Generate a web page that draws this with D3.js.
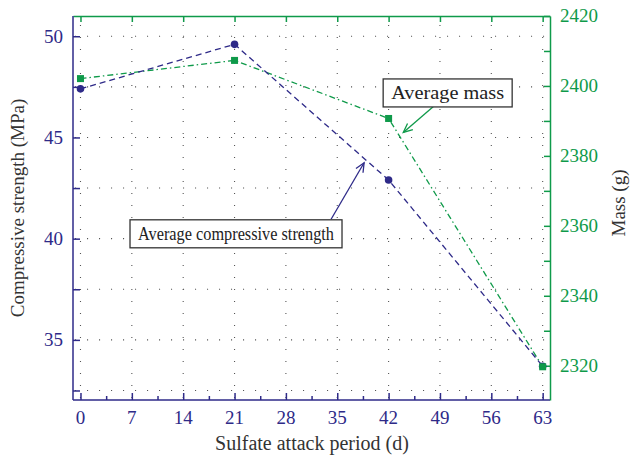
<!DOCTYPE html>
<html>
<head>
<meta charset="utf-8">
<script src="https://cdn.jsdelivr.net/npm/d3@7"></script>
<style>
  html, body { margin: 0; padding: 0; background: #fff; }
  svg { display: block; }
  text { font-family: "Liberation Serif", "DejaVu Serif", serif; }
</style>
</head>
<body>
<svg id="chart" width="630" height="460"></svg>
<script>
// Sulfate attack period (days)
const days = [0, 21, 42, 63];
// Average compressive strength (MPa)
const strength = [47.4, 49.6, 42.9, 33.7];
// Average mass (g)
const mass = [2402.1, 2407.3, 2390.7, 2319.7];

const xTicks = [0, 7, 14, 21, 28, 35, 42, 49, 56, 63];
const leftTicks = [35, 40, 45, 50];
const rightTicks = [2320, 2340, 2360, 2380, 2400, 2420];

const BLUE = "#2e2a88";
const GREEN = "#0f9a4a";
const TITLE = "#333";

const svg = d3.select("#chart");
const plot = { left: 73, right: 550, top: 16, bottom: 400 };

const x = d3.scaleLinear().domain([-1.02, 64.0]).range([plot.left, plot.right]);
const yL = d3.scaleLinear().domain([32.03, 51.0]).range([plot.bottom, plot.top]);
const yR = d3.scaleLinear().domain([2310.2, 2420]).range([plot.bottom, plot.top]);

// Dotted grid: every 7 days and every 2.5 MPa
const grid = svg.append("g").attr("stroke", "#555").attr("stroke-width", 1.1)
  .attr("stroke-dasharray", "1.1,10.9").attr("fill", "none");
grid.selectAll("line.v").data(xTicks).join("line")
  .attr("x1", d => x(d)).attr("x2", d => x(d))
  .attr("y1", plot.bottom - 2).attr("y2", plot.top + 2);
grid.selectAll("line.h").data(d3.range(32.5, 50.01, 2.5)).join("line")
  .attr("class", "h")
  .attr("x1", plot.left + 2).attr("x2", plot.right - 2)
  .attr("y1", d => yL(d)).attr("y2", d => yL(d));

// Axes (ticks point inward)
const bottomAxis = d3.axisBottom(x).tickValues(d3.range(0, 63.01, 3.5))
  .tickSizeInner(-5).tickSizeOuter(0).tickFormat("");
const gB = svg.append("g").attr("transform", `translate(0,${plot.bottom})`).call(bottomAxis);
gB.selectAll(".tick line").attr("y2", (d) => (d % 7 === 0 ? -7 : -4));

const topAxis = d3.axisTop(x).tickValues(xTicks).tickSizeInner(-6).tickSizeOuter(0).tickFormat("");
const gT = svg.append("g").attr("transform", `translate(0,${plot.top})`).call(topAxis);

const leftAxis = d3.axisLeft(yL).tickValues(d3.range(32.5, 50.01, 2.5))
  .tickSizeInner(-7).tickSizeOuter(0).tickFormat("");
const gL = svg.append("g").attr("transform", `translate(${plot.left},0)`).call(leftAxis);

const rightAxis = d3.axisRight(yR).tickValues(d3.range(2320, 2420.01, 10))
  .tickSizeInner(-6).tickSizeOuter(0).tickFormat("");
const gR = svg.append("g").attr("transform", `translate(${plot.right},0)`).call(rightAxis);

[gB, gL].forEach(g => g.selectAll("path, line").attr("stroke", BLUE).attr("stroke-width", 1.5));
[gT, gR].forEach(g => g.selectAll("path, line").attr("stroke", GREEN).attr("stroke-width", 1.5));
gB.select("path.domain").attr("d", `M${plot.left},0H${plot.right}`);
gL.select("path.domain").attr("d", `M0,${plot.bottom}V${plot.top}`);
svg.selectAll(".tick text").remove();

// Tick labels
const labelSize = 19;
svg.append("g").selectAll("text").data(xTicks).join("text")
  .attr("x", d => x(d)).attr("y", plot.bottom + 24)
  .attr("text-anchor", "middle").attr("font-size", labelSize).attr("fill", BLUE)
  .text(d => d);
svg.append("g").selectAll("text").data(leftTicks).join("text")
  .attr("x", plot.left - 10).attr("y", d => yL(d)).attr("dy", "0.34em")
  .attr("text-anchor", "end").attr("font-size", labelSize).attr("fill", BLUE)
  .text(d => d);
svg.append("g").selectAll("text").data(rightTicks).join("text")
  .attr("x", plot.right + 10).attr("y", d => yR(d)).attr("dy", "0.34em")
  .attr("text-anchor", "start").attr("font-size", labelSize).attr("fill", GREEN)
  .text(d => d);

// Axis titles
svg.append("text").attr("transform", `translate(24,208) rotate(-90)`)
  .attr("text-anchor", "middle").attr("font-size", 19).attr("fill", TITLE)
  .text("Compressive strength (MPa)");
svg.append("text").attr("transform", `translate(625,203) rotate(-90)`)
  .attr("text-anchor", "middle").attr("font-size", 19).attr("fill", TITLE)
  .text("Mass (g)");
svg.append("text").attr("x", 312).attr("y", 450)
  .attr("text-anchor", "middle").attr("font-size", 20).attr("fill", TITLE)
  .text("Sulfate attack period (d)");

// Series lines
const strengthPts = days.map((d, i) => [x(d), yL(strength[i])]);
const massPts = days.map((d, i) => [x(d), yR(mass[i])]);
const line = d3.line();

svg.append("path").attr("d", line(massPts)).attr("fill", "none")
  .attr("stroke", GREEN).attr("stroke-width", 1.3).attr("stroke-dasharray", "6,3,1.5,3");
svg.append("path").attr("d", line(strengthPts)).attr("fill", "none")
  .attr("stroke", BLUE).attr("stroke-width", 1.3).attr("stroke-dasharray", "6,4");

svg.append("g").selectAll("circle").data(strengthPts).join("circle")
  .attr("cx", d => d[0]).attr("cy", d => d[1]).attr("r", 3.8).attr("fill", BLUE);
svg.append("g").selectAll("rect").data(massPts).join("rect")
  .attr("x", d => d[0] - 3.5).attr("y", d => d[1] - 3.5)
  .attr("width", 7).attr("height", 7).attr("fill", GREEN);

// Callouts: label box plus an open-headed arrow pointing at the curve
const callouts = [
  { text: "Average mass", color: GREEN, scale: yR, width: 113,
    box: [50.05, 2398.0], tail: [50.2, 2397.9], tip: [44.0, 2386.7] },
  { text: "Average compressive strength", color: BLUE, scale: yL, width: 196,
    box: [21.2, 40.24], tail: [34.16, 40.96], tip: [38.66, 43.75] }
];

callouts.forEach(c => {
  const g = svg.append("g");
  const tx = x(c.tip[0]), ty = c.scale(c.tip[1]);
  const sx = x(c.tail[0]), sy = c.scale(c.tail[1]);
  g.append("line").attr("x1", sx).attr("y1", sy).attr("x2", tx).attr("y2", ty)
    .attr("stroke", c.color).attr("stroke-width", 1.3);
  const ang = Math.atan2(ty - sy, tx - sx);
  const len = 10, spread = 0.42;
  const head = [
    [tx - len * Math.cos(ang - spread), ty - len * Math.sin(ang - spread)],
    [tx, ty],
    [tx - len * Math.cos(ang + spread), ty - len * Math.sin(ang + spread)]
  ];
  g.append("path").attr("d", d3.line()(head)).attr("fill", "none")
    .attr("stroke", c.color).attr("stroke-width", 1.3);

  const bx = x(c.box[0]);
  const cy = c.scale(c.box[1]);
  g.append("rect")
    .attr("x", bx - c.width / 2 - 8).attr("y", cy - 14)
    .attr("width", c.width + 16).attr("height", 28)
    .attr("fill", "#fff").attr("stroke", "#333").attr("stroke-width", 1.3);
  g.append("text").attr("x", bx).attr("y", cy).attr("dy", "0.33em")
    .attr("text-anchor", "middle").attr("font-size", 19).attr("fill", "#222")
    .attr("textLength", c.width).attr("lengthAdjust", "spacingAndGlyphs")
    .text(c.text);
});
</script>
</body>
</html>
